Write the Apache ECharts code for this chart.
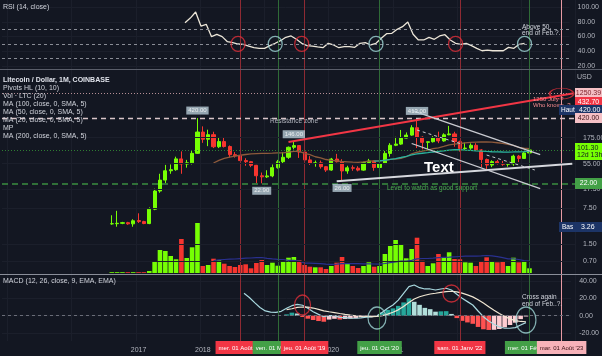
<!DOCTYPE html>
<html><head><meta charset="utf-8">
<script src="https://cdn.jsdelivr.net/npm/echarts/dist/echarts.min.js"></script>
<style>html,body{margin:0;padding:0;background:#131722}#c{width:602px;height:356px}</style>
</head><body><div id="c"></div>
<script>
// ---------- categories (monthly) ----------
const months = [];
(function(){ let y=2014,m=12; for(let i=0;i<107;i++){ months.push(y+'-'+(m<10?'0'+m:m)); m++; if(m>12){m=1;y++;} } })();
const idx = s => months.indexOf(s);

// ---------- price data: Aug 2016 .. Feb 2023 ----------
const priceStart = '2016-08';
const open  = [3.75,3.78,3.85,3.95,3.75, 4.35,4.15,3.8,7.2,16.2,26.4,40,42,68,54,57,87,
  225,163,200,117,147,118,82,78,63,60,51,32, 30.5,31.8,46,60,73,114,123,92,65,56,57,48,
  41.3,67.5,60,39.7,45.7,44.9,41.2,57.5,62,46.3,55.2,86.8, 124.7,131.5,171.6,196.3,273,178.5,142,146.2,174.1,151.3,198.9,206.7,
  146.6,108,110,124.6,101.4,66.2,51.6,60.1,55.1,53.5,54.5,76.9, 69.3,88.5];
const close = [3.78,3.85,3.95,3.75,4.3, 4.15,3.8,7.2,16.2,26.4,40,42,68,54,57,87,225,
  163,200,117,147,118,82,78,63,60,51,32,30.5, 31.8,46,60,73,114,123,92,65,56,57,48,41.3,
  67.5,60,39.7,45.7,44.9,41.2,57.5,62,46.3,55.2,86.8,124.7, 131.5,171.6,196.3,273,178.5,142,146.2,174.1,151.3,198.9,206.7,146.6,
  108,110,124.6,101.4,66.2,51.6,60.1,55.1,53.5,54.5,76.9,69.3, 88.5,101.3];
const low   = [3.6,3.3,3.7,3.6,3.3, 3.9,3.7,3.7,6.9,15,23,35,40,35,46,53,85,
  139,120,110,110,113,72,72,50,50,47,23,22.9, 29,30,44,55,68,104,71,61,52,48,44,38,
  40,58,26,35,40,39,40,55,40,44,54,75, 120,127,169,190,110,104,105,141,137,146,195,117,
  94,99,102,99,47,41,47,53,50,48,50,59, 68,85];
const high  = [5.5,6.7,4.1,4.1,4.6, 6.0,4.3,7.8,18,35,52,53,75,95,65,97,420,
  290,250,228,176,180,124,92,87,70,62,52,37, 41,53,65,91,118,146,123,102,77,63,63,49,
  71,85,67,50,51,49,60,68,64,60,97,137, 182,247,221,305,413,186,146,187,229,213,296,228,
  153,141,136,137,105,69,64,65,62,57,82,81, 93,103];
const volume = [0.8,0.8,0.8,0.8,0.8,0.8,0.8, 2,11,23,22,17,13.7,34,15,25.7,50,
  7,8,14.3,12.7,9.3,7,6,8,8.7,4.7,10,13, 8,10.3,7.3,11,15.3,16,12.7,8,6.3,5.7,5.7,4,
  7,10.3,16,9,7,5,7,10.7,6.3,7,19,27, 33,29,14.7,24,35.3,12.3,7,9.7,19,15.7,20.7,14,
  13.7,10.7,10.3,7,12,15.7,12,10.7,12,7,15.3,10.7, 11,4.7];

// ---------- indicators ----------
const ma20Start = '2018-03';
const ma20 = [56.5,63.7,69.4,73.3,77,79.9,82.7,85.1,86.3,87,
  87.3,87.6,88.5,88.8,91.8,95.1,95.3,87.3,82,74.8,71.4,66.1,
  63.6,62.5,60.5,59.7,58.9,58.4,59.7,61.3,62,62.5,63.8,66.4,
  67.3,69.7,74.9,85.3,91.4,95.7,100.6,107.2,111.4,118.4,126.7,131.8,
  134.9,138.4,141.7,143.7,144.7,144.5,143.2,139.7,135.8,129.9,124,113.8,
  109.3,107.2];
const ma50Start = '2020-09';
const ma50 = [61.3,62.3,64,66.4,
  68.9,72.3,76.1,81.5,84.9,87.4,89.8,92.5,94.7,97.3,100.4,102.2,
  102.6,100.3,99.5,97.6,96.5,94.6,93.5,92.9,92.4,92.3,92.6,93,
  94.1,95.5];
const volMaStart = '2018-03';
const volMa = [12.5,13.1,13.5,13.8,14,14.4,14.8,15,15.4,15.5,
  14.7,14.1,13.6,13.5,12.6,12.6,12,9.9,9.8,9.7,9.3,8.9,
  8.7,8.9,9.4,9.5,9.4,9.4,9.2,9.1,9,8.9,9.5,10.3,
  11.1,11.8,11.9,12.7,14.1,14.5,14.5,14.8,15.4,15.7,15.9,16.2,
  16.5,16.8,17,16.8,17.1,17.5,17.1,16.3,15.3,14.2,14.2,13.5,
  12.3,11.9];
const rsiStart = '2017-10';
const rsi = [78.7,85,93.2,
  74.2,76.5,59.8,63,59.8,53,51.6,49.8,49.4,47.1,44.8,44,
  44,47.6,50.8,54.3,58.9,60.7,56.2,50.8,47.6,47,45.8,44.8,
  50.8,48.5,44.8,46.2,46.2,45.3,50.8,51.6,48.5,50.8,57.5,63.8,
  64.3,69.7,73.3,79.7,63,55.3,55.3,58.9,56.2,60.7,62.4,55.3,
  50.8,49.4,50.8,47.6,44,40.7,41.6,40.7,40.7,40.7,45.3,44,
  49.4,50.8];
const macdStart = '2018-09';
const macd = [25.8,21,15,9.5,
  5.5,4,3.9,5,8.5,11.5,13.1,12,8.5,4.6,1.5,-1.2,
  0.2,0,-2,-2.3,-2.8,-3,-2.5,-1.8,-1.5,0,3.9,8.5,
  12.3,18,25.8,33.5,35.4,32.3,30.8,30.8,29.6,30.8,31.6,29.6,
  24.7,20,16.2,12.3,5.4,-1.2,-6.1,-10,-13,-14.5,-14.5,-13.8,
  -10.7,-8];
const signalStart = '2019-05';
const signal = [7,8,9.5,10,9.8,8.8,7.3,5.6,
  4.5,3.6,2.5,1.5,0.6,-0.1,-0.6,-0.8,-1,-0.8,0.1,1.8,
  3.9,6.7,10.5,15.1,19.2,21.8,23.6,25,25.9,26.9,27.8,28.2,
  27.5,26,24,21.7,18.4,14.5,10.4,6.3,2.4,-1,-3.7,-5.7,
  -6.7,-7];
const hist = [1.5,3.5,2.5,-1.5,-3.5,-5,-6.2,-7,
  -4.5,-3.6,-4.5,-3.8,-3.4,-2.9,-1.9,-1,-0.5,0.8,3.8,6.7,
  8.4,11.3,15.3,20,16,12.5,9,7.5,4.6,5,5.2,2,
  -2.8,-6,-7.8,-9.4,-13,-15.7,-16.5,-16.3,-15.4,-13.5,-10.8,-8.1,
  -4,-1];

// ---------- helpers ----------
const GREEN='#76ff03', RED='#f7352f';
function pad(arr, start){ const out=months.map(()=>'-'); const s=idx(start); arr.forEach((v,i)=>{out[s+i]=v;}); return out; }
const candles = months.map(()=>'-');
const volData = months.map(()=>'-');
const ps = idx(priceStart);
open.forEach((o,i)=>{
  const up = close[i]>=o;
  candles[ps+i]=[o,close[i],low[i],high[i]];
  volData[ps+i]={value:volume[i], itemStyle:{color: up?GREEN:RED}};
});
const histData = pad(hist, signalStart).map((v,i,a)=>{
  if(v==='-') return v;
  const prev = (a[i-1]==='-'||a[i-1]===undefined)?0:a[i-1];
  let c;
  if(v>=0) c = v>=prev ? '#26a69a' : '#b2dfdb';
  else c = v<prev ? '#ff5252' : '#ffcdd2';
  return {value:v, itemStyle:{color:c}};
});
const blank = months.map(()=>'-');
const FONT = "'Liberation Sans', Arial, sans-serif";
const AX = '#b2b5be';
const yearShown = v => v.slice(5)==='01' && +v.slice(0,4)>=2017;

function xAx(g, extra){ return Object.assign({gridIndex:g, type:'category', data:months, boundaryGap:true, show:false}, extra||{}); }

// annotations
const verticals = [
  ['2018-08','#8e2a33',"mer. 01 Août '18",'#f23645','#fff'],
  ['2019-03','#2f6b37',"ven. 01 Mars '19",'#43a047','#fff'],
  ['2019-08','#8e2a33',"jeu. 01 Août '19",'#f23645','#fff'],
  ['2020-10','#2f6b37',"jeu. 01 Oct '20",'#43a047','#fff'],
  ['2022-01','#8e2a33',"sam. 01 Janv '22",'#f23645','#fff'],
  ['2023-02','#2f6b37',"mer. 01 Févr '23",'#43a047','#fff'],
  ['2023-08','#e79aa3',"mar. 01 Août '23",'#f7b2b9','#3a1015']
];
const rsiCircles = [['2018-08',50,'#e0303a'],['2019-03',50,'#9fd6d6'],['2019-08',50,'#e0303a'],['2020-10',50,'#9fd6d6'],['2022-01',50,'#e0303a'],['2023-02',50,'#9fd6d6']];
const macdCircles = [['2019-08',12.3,'#e0303a',[16,20]],['2020-10',-2.7,'#9fd6d6',[18,22]],['2021-12',25.6,'#e0303a',[17,17]],['2023-02',-5,'#9fd6d6',[20,26]]];
const pivots = [['2017-12',420,'420.00','top'],['2019-06',146,'146.00','top'],['2021-05',413,'413.00','top'],['2018-12',22.9,'22.90','bottom'],['2020-03',26,'26.00','bottom']];
const priceTicks = [175,55,17.5,7.5,1.5,0.7];

const trendLines = [
  [['2019-05',144],['2023-10',1250],{color:'#f23645',width:2}],
  [['2020-02',25.2],['2023-10',55],{color:'#d6d8de',width:2}],
  [['2021-04',590],['2023-04',82.6],{color:'#c9cbd1',width:1.3}],
  [['2021-04',135],['2023-04',18.1],{color:'#c9cbd1',width:1.3}],
  [['2021-05',246],['2022-01',135],{color:'#c9cbd1',width:1,type:[3,3]}],
  [['2022-06',80.7],['2023-03',41.4],{color:'#c9cbd1',width:1,type:[3,3]}]
];

function txt(x,y,t,fill,font,extra){ return Object.assign({type:'text',x:x,y:y,silent:true,z:100,style:{text:t,fill:fill,font:font||('7px '+FONT),verticalAlign:'middle'}},extra||{}); }
function box(x,y,w,h,fill,t,tc,align){ return [
  {type:'rect',shape:{x:x,y:y,width:w,height:h},style:{fill:fill},silent:true,z:100},
  {type:'text',x:align==='left'?x+2:x+w/2,y:y+h/2,silent:true,z:101,style:{text:t,fill:tc,font:'7px '+FONT,align:align||'center',verticalAlign:'middle'}}
]; }

const legendLines = ['Pivots HL (10, 10)','Vol · LTC (20)','MA (100, close, 0, SMA, 5)','MA (50, close, 0, SMA, 5)','MA (20, close, 0, SMA, 5)','MP','MA (200, close, 0, SMA, 5)'];
const graphics = [
  {type:'line',shape:{x1:0,y1:69.5,x2:602,y2:69.5},style:{stroke:'#5a5e6a',lineWidth:1},silent:true,z:50},
  {type:'line',shape:{x1:0,y1:274.5,x2:602,y2:274.5},style:{stroke:'#8a8e99',lineWidth:1},silent:true,z:50},
  txt(3,7,'RSI (14, close)','#d1d4dc'),
  txt(3,80,'Litecoin / Dollar, 1M, COINBASE','#e0e3eb','bold 7px '+FONT),
  txt(3,281,'MACD (12, 26, close, 9, EMA, EMA)','#d1d4dc'),
  txt(270,121,'Resistance zone','#b2b5be','6.5px '+FONT),
  txt(424,168,'Text','#ffffff','bold 15px '+FONT),
  txt(387,188,'Level to watch as good support','#4caf50','6.5px '+FONT),
  txt(533,99,'1250 July ?','#f58a8f','6px '+FONT),
  txt(533,105,'Who knows..?','#f58a8f','6px '+FONT),
  txt(522,27,'Above 50,','#d1d4dc','6.5px '+FONT),
  txt(522,33,'end of Feb.?.','#d1d4dc','6.5px '+FONT),
  txt(522,297,'Cross again','#d1d4dc','6.5px '+FONT),
  txt(522,304,'end of Feb..?.','#d1d4dc','6.5px '+FONT),
  txt(577,77,'USD',AX),
].concat(
  legendLines.map((t,i)=>txt(3,88+i*8,t,'#d1d4dc')),
  box(575,88,27,10,'#f5c0c5','1250.39','#7a1c24'),
  box(575,97,27,10,'#f23645','432.70','#ffffff'),
  [{type:'rect',shape:{x:559,y:105,width:43,height:10},style:{fill:'#1c3466'},silent:true,z:100},
   txt(561,110,'Haut','#ffffff','6.5px '+FONT,{z:101}),
   txt(579,110,'420.00','#ffffff','7px '+FONT,{z:101})],
  box(575,113,27,10,'#f5c0c5','420.00','#3a1015'),
  [{type:'rect',shape:{x:575,y:143,width:27,height:17},style:{fill:'#76ff03'},silent:true,z:100},
   txt(577,148,'101.30','#131722','7px '+FONT,{z:101}),
   txt(577,155,'12d 13h','#131722','7px '+FONT,{z:101})],
  box(575,178,27,11,'#43a047','22.00','#ffffff'),
  [{type:'rect',shape:{x:559,y:222,width:43,height:10},style:{fill:'#1c3466'},silent:true,z:100},
   txt(562,227,'Bas','#ffffff','6.5px '+FONT,{z:101}),
   txt(581,227,'3.26','#ffffff','7px '+FONT,{z:101})]
);

const chart = echarts.init(document.getElementById('c'), null, {renderer:'canvas'});
chart.setOption({
  backgroundColor:'#131722',
  animation:false,
  textStyle:{fontFamily:FONT},
  grid:[
    {left:2,right:27,top:7,height:59},
    {left:2,right:27,top:70,height:203},
    {left:2,right:27,top:222,height:51},
    {left:2,right:27,top:281,height:52},
    {left:2,right:27,top:0,bottom:15}
  ],
  xAxis:[ xAx(0), xAx(1), xAx(2), xAx(3),
    {gridIndex:4,type:'category',data:months,boundaryGap:true,
     axisLine:{show:false},axisTick:{show:false},
     axisLabel:{color:AX,fontSize:7,margin:6,interval:(i,v)=>yearShown(v),formatter:v=>v.slice(0,4)},
     splitLine:{show:true,interval:(i,v)=>v.slice(5)==='01',lineStyle:{color:'#1b1f2b'}}}
  ],
  yAxis:[
    {gridIndex:0,type:'value',min:20,max:100,interval:20,position:'right',
     axisLine:{show:false},axisTick:{show:false},
     axisLabel:{color:AX,fontSize:7,margin:8,formatter:v=>v.toFixed(2)},
     splitLine:{lineStyle:{color:'#1b1f2b'}}},
    {gridIndex:1,type:'log',min:0.419,max:3580,show:false,splitLine:{show:false}},
    {gridIndex:2,type:'value',min:0,max:51,show:false,splitLine:{show:false}},
    {gridIndex:3,type:'value',min:-20,max:40,interval:20,position:'right',
     axisLine:{show:false},axisTick:{show:false},
     axisLabel:{color:AX,fontSize:7,margin:8,formatter:v=>v.toFixed(2)},
     splitLine:{lineStyle:{color:'#1b1f2b'}}},
    {gridIndex:4,type:'value',min:0,max:1,show:false,splitLine:{show:false}}
  ],
  series:[
    {type:'line',xAxisIndex:4,yAxisIndex:4,data:blank,silent:true,z:1,
     markLine:{symbol:['none','none'],silent:true,animation:false,
       data:verticals.map(v=>({xAxis:idx(v[0]),lineStyle:{color:v[1],width:1,type:'solid'},
         label:{show:true,position:'start',distance:0,formatter:v[2],backgroundColor:v[3],color:v[4],fontSize:6,padding:[4,3,3,3]}}))}},
    {type:'line',name:'RSI',xAxisIndex:0,yAxisIndex:0,data:pad(rsi,rsiStart),symbol:'none',
     lineStyle:{color:'#ece6d8',width:1.3},
     markLine:{symbol:['none','none'],silent:true,label:{show:false},
       lineStyle:{color:'#8a8d96',type:[3,3],width:1},data:[{yAxis:70},{yAxis:50},{yAxis:30}]}},
    {type:'scatter',xAxisIndex:0,yAxisIndex:0,symbolSize:[14,15],z:5,
     data:rsiCircles.map(c=>({value:[idx(c[0]),c[1]],itemStyle:{color:'rgba(0,0,0,0)',borderColor:c[2],borderWidth:1.3}}))},
    {type:'line',xAxisIndex:1,yAxisIndex:1,data:blank,silent:true,z:1,
     markLine:{symbol:['none','none'],silent:true,lineStyle:{color:'#1b1f2b',width:1,type:'solid'},
       label:{show:true,position:'end',distance:8,color:AX,fontSize:7,formatter:p=>p.value.toFixed(2)},
       data:priceTicks.map(v=>({yAxis:v}))}},
    {type:'candlestick',name:'LTC',xAxisIndex:1,yAxisIndex:1,data:candles,barWidth:3.6,z:3,
     itemStyle:{color:GREEN,color0:RED,borderColor:GREEN,borderColor0:RED,borderWidth:1},
     markLine:{symbol:['none','none'],silent:true,label:{show:false},
       data:[
         {yAxis:1250.39,lineStyle:{color:'#b58e95',type:[1,2],width:1}},
         {yAxis:420,lineStyle:{color:'#d9c5c9',type:[5,4],width:1.3}},
         {yAxis:101.3,lineStyle:{color:'#2e7d32',type:[1,2],width:1}},
         {yAxis:22,lineStyle:{color:'#3b8f40',type:[6,4],width:1.5}}
       ]}},
    {type:'line',name:'MA20',xAxisIndex:1,yAxisIndex:1,data:pad(ma20,ma20Start),symbol:'none',z:4,
     lineStyle:{color:'#8d5a3b',width:1.3}},
    {type:'line',name:'MA50',xAxisIndex:1,yAxisIndex:1,data:pad(ma50,ma50Start),symbol:'none',z:4,
     lineStyle:{color:'#2bb39e',width:1.3}},
    {type:'line',xAxisIndex:1,yAxisIndex:1,data:blank,silent:true,z:6,
     markLine:{symbol:['none','none'],silent:true,label:{show:false},
       data:trendLines.map(t=>[{coord:[idx(t[0][0]),t[0][1]],lineStyle:Object.assign({type:'solid'},t[2])},{coord:[idx(t[1][0]),t[1][1]]}])}},
    {type:'scatter',xAxisIndex:1,yAxisIndex:1,z:7,symbolSize:[24,11],
     data:[{value:[idx('2023-08'),1250],itemStyle:{color:'rgba(0,0,0,0)',borderColor:'#e0303a',borderWidth:1.3}}]},
    {type:'scatter',xAxisIndex:1,yAxisIndex:1,z:8,symbolSize:1,
     data:pivots.map(p=>({value:[idx(p[0]),p[1]],itemStyle:{color:'rgba(0,0,0,0)'},
       label:{show:true,position:p[3],distance:3,formatter:p[2],backgroundColor:'#b7cad6',color:'#ffffff',fontSize:6,padding:[1,2]}}))},
    {type:'bar',name:'Vol',xAxisIndex:2,yAxisIndex:2,data:volData,barWidth:4.6,z:2},
    {type:'line',name:'VolMA',xAxisIndex:2,yAxisIndex:2,data:pad(volMa,volMaStart),symbol:'none',z:3,
     lineStyle:{color:'#2a3190',width:1.2}},
    {type:'bar',name:'Hist',xAxisIndex:3,yAxisIndex:3,data:histData,barWidth:4.6,z:2},
    {type:'line',name:'MACD',xAxisIndex:3,yAxisIndex:3,data:pad(macd,macdStart),symbol:'none',z:3,
     lineStyle:{color:'#a8d8df',width:1.2},
     markLine:{symbol:['none','none'],silent:true,label:{show:false},lineStyle:{color:'#6a6d78',type:[3,3],width:1},data:[{yAxis:0}]}},
    {type:'line',name:'Signal',xAxisIndex:3,yAxisIndex:3,data:pad(signal,signalStart),symbol:'none',z:3,
     lineStyle:{color:'#f0e6d2',width:1.2}},
    {type:'scatter',xAxisIndex:3,yAxisIndex:3,z:5,
     data:macdCircles.map(c=>({value:[idx(c[0]),c[1]],symbolSize:c[3],itemStyle:{color:'rgba(0,0,0,0)',borderColor:c[2],borderWidth:1.3}}))}
  ],
  graphic:graphics
});
</script></body></html>
